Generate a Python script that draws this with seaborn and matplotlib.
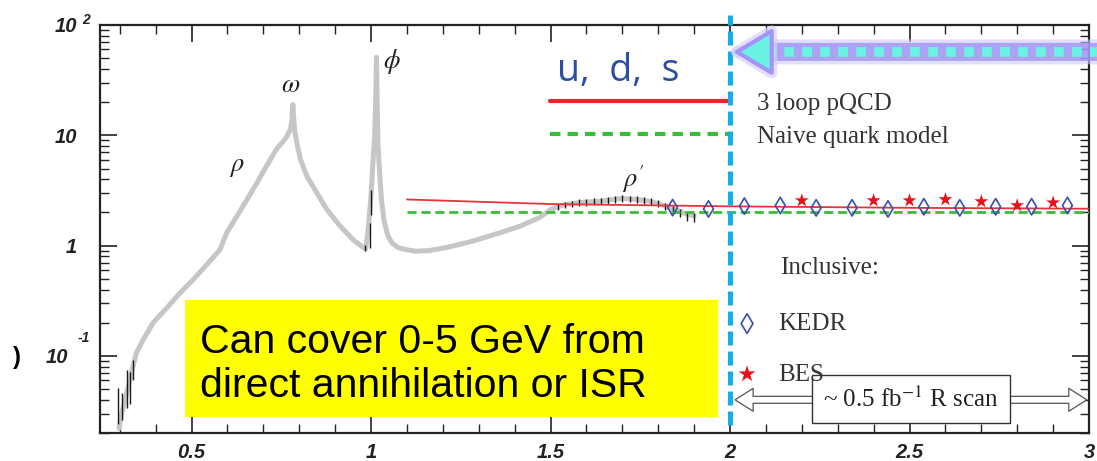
import matplotlib
matplotlib.use("Agg")
import matplotlib.pyplot as plt
import matplotlib.patheffects as pe
from matplotlib.ticker import FixedLocator, FixedFormatter, MultipleLocator, LogLocator, NullFormatter
from matplotlib.patches import Rectangle
from matplotlib.lines import Line2D
from matplotlib.transforms import ScaledTranslation
import seaborn as sns

# ---- R ratio below 2 GeV (inclusive hadronic data) ----
energy = [0.298, 0.305, 0.315, 0.332, 0.346, 0.365, 0.393, 0.430, 0.467, 0.504,
          0.542, 0.579, 0.598, 0.626, 0.654, 0.682, 0.712, 0.738, 0.755, 0.766,
          0.776, 0.780, 0.782, 0.784, 0.787, 0.795, 0.803, 0.821, 0.849, 0.877,
          0.914, 0.950, 0.975, 0.985, 0.992, 0.999, 1.005, 1.010, 1.013, 1.015,
          1.017, 1.019, 1.024, 1.029, 1.036, 1.046, 1.058, 1.075, 1.096, 1.124,
          1.160, 1.210, 1.280, 1.360, 1.415, 1.470, 1.500, 1.520, 1.540, 1.560,
          1.580, 1.600, 1.620, 1.640, 1.660, 1.680, 1.700, 1.720, 1.740, 1.760,
          1.780, 1.800, 1.820, 1.840, 1.860, 1.880, 1.900]
r_value = [0.022, 0.030, 0.040, 0.070, 0.106, 0.14, 0.20, 0.27, 0.37, 0.49,
           0.67, 0.92, 1.31, 1.84, 2.6, 3.7, 5.5, 7.6, 8.8, 9.8,
           11.5, 14.0, 19.0, 15.0, 11.0, 8.0, 6.1, 4.26, 3.0, 2.12,
           1.5, 1.13, 0.98, 0.93, 1.4, 2.6, 5.5, 10.0, 22.0, 51.0,
           20.0, 8.5, 4.5, 2.6, 1.7, 1.25, 1.06, 0.96, 0.92, 0.89,
           0.90, 0.96, 1.09, 1.31, 1.5, 1.8, 2.12, 2.25, 2.36, 2.40,
           2.45, 2.48, 2.50, 2.53, 2.58, 2.64, 2.67, 2.65, 2.62, 2.57,
           2.50, 2.40, 2.28, 2.16, 2.05, 1.92, 1.86]

# uncertainty bars shown on selected points
bar_energy = [0.296, 0.306, 0.320, 0.329, 0.338, 0.983, 0.997, 1.001,
              1.52, 1.54, 1.56, 1.58, 1.60, 1.62, 1.64, 1.66, 1.68, 1.70,
              1.72, 1.74, 1.76, 1.78, 1.80, 1.82, 1.84, 1.86, 1.88, 1.90]
bar_low = [0.024, 0.026, 0.034, 0.037, 0.060, 0.90, 0.95, 1.9,
           2.12, 2.2, 2.24, 2.28, 2.3, 2.33, 2.36, 2.4, 2.45, 2.48,
           2.47, 2.43, 2.38, 2.32, 2.22, 2.1, 1.92, 1.8, 1.68, 1.65]
bar_high = [0.051, 0.046, 0.075, 0.072, 0.092, 1.02, 1.6, 3.2,
            2.38, 2.5, 2.56, 2.62, 2.65, 2.68, 2.7, 2.76, 2.82, 2.86,
            2.84, 2.8, 2.75, 2.68, 2.58, 2.42, 2.28, 2.16, 2.02, 1.96]

# theory curves
pqcd_energy = [1.1, 1.5, 2.0, 2.5, 3.0]
pqcd_r = [2.62, 2.38, 2.27, 2.20, 2.16]
naive_energy = [1.1, 3.0]
naive_r = [2.0, 2.0]

# inclusive scan points
kedr_energy = [1.84, 1.94, 2.04, 2.14, 2.24, 2.34, 2.44, 2.54, 2.64, 2.74, 2.84, 2.94]
kedr_r = [2.21, 2.15, 2.28, 2.31, 2.20, 2.20, 2.15, 2.25, 2.20, 2.25, 2.25, 2.31]
bes_energy = [2.2, 2.4, 2.5, 2.6, 2.7, 2.8, 2.9]
bes_r = [2.56, 2.56, 2.56, 2.62, 2.51, 2.31, 2.45]

x_ticks = [0.5, 1, 1.5, 2, 2.5, 3]
x_tick_labels = ["0.5", "1", "1.5", "2", "2.5", "3"]
y_ticks = [0.1, 1, 10, 100]
y_tick_labels = ["10", "1", "10", "10"]

resonances = [("$\\rho$", 0.627, 5.1), ("$\\omega$", 0.777, 28.0),
              ("$\\phi$", 1.058, 47.0), ("$\\rho'$", 1.73, 4.0)]

sns.set_theme(style="ticks")
plt.rcParams["font.family"] = ["Liberation Serif", "DejaVu Serif"]
plt.rcParams["mathtext.fontset"] = "stix"

fig = plt.figure(figsize=(10.97, 4.61), dpi=100)
ax = fig.add_axes([0.0912, 0.0607, 0.9927 - 0.0912, 0.9458 - 0.0607])
ax.set_yscale("log")
ax.set_xlim(0.245, 3.0)
ax.set_ylim(0.02, 100)

# measured R(s)
sns.lineplot(x=energy, y=r_value, color="#c6c6c6", linewidth=3.6, sort=False,
             estimator=None, ax=ax, zorder=2)
ax.vlines(bar_energy, bar_low, bar_high, color="#1a1a1a", linewidth=1.0, zorder=3)

# theory
sns.lineplot(x=pqcd_energy, y=pqcd_r, color="#e5343a", linewidth=1.3, ax=ax, zorder=3)
sns.lineplot(x=naive_energy, y=naive_r, color="#3dbb3d", linewidth=2.0, ax=ax,
             linestyle=(0, (3.3, 1.7)), zorder=3)

# scan points
sns.scatterplot(x=kedr_energy, y=kedr_r, marker="d", s=70, color="#3a4fae",
                edgecolor="#3a4fae", linewidth=1.2, ax=ax, zorder=6)
kedr_pts = ax.collections[-1]
kedr_pts.set_facecolor("none")
sns.scatterplot(x=bes_energy, y=bes_r, marker="*", s=110, color="#e8101a",
                edgecolor="none", linewidth=0, ax=ax, zorder=6)
bes_pts = ax.collections[-1]

# resonance names
for name, ex, ey in resonances:
    ax.text(ex, ey, name, fontsize=19, ha="center", va="center", color="#222222", zorder=5)

# u, d, s heading and theory key
ax.text(1.518, 31.0, "u,  d,  s", fontsize=27, family="Open Sans", color="#2d4ea0",
        ha="left", va="baseline", zorder=5)
key_handles = [Line2D([], [], color="#e8262c", lw=3.0),
               Line2D([], [], color="#3cbc3c", lw=3.0, linestyle=(0, (2.5, 1.7)))]
leg1 = ax.legend(key_handles, ["3 loop pQCD", "Naive quark model"], loc="upper left",
                 bbox_to_anchor=(0.455, 0.834), frameon=False, fontsize=18,
                 handlelength=7.12, handletextpad=1.16, labelspacing=0.41,
                 borderpad=0, borderaxespad=0)
for t in leg1.get_texts():
    t.set_color("#333333")
ax.add_artist(leg1)

# inclusive measurements key
ax.text(2.139, 0.63, "Inclusive:", fontsize=18, ha="left", va="center", color="#333333", zorder=5)
leg2 = ax.legend([kedr_pts, bes_pts], ["KEDR", "BES"], loc="upper left",
                 bbox_to_anchor=(0.6416, 0.295), frameon=False, fontsize=18,
                 handlelength=1.0, handletextpad=0.74, labelspacing=1.12,
                 borderpad=0, borderaxespad=0, scatterpoints=1, markerscale=1.2)
for t in leg2.get_texts():
    t.set_color("#333333")
leg2.set_zorder(10)

# 2 GeV boundary
ax.axvline(2.0, ymin=0.02, ymax=1.025, color="#12aef0", lw=3.6, dashes=(2.8, 1.2),
           clip_on=False, zorder=7)

# R scan range arrow with label
scan_y = 0.04
for end in (2.014, 2.994):
    ax.annotate("", xy=(end, scan_y), xytext=(2.504, scan_y), annotation_clip=False,
                arrowprops=dict(arrowstyle="simple,head_length=1.3,head_width=1.65,tail_width=0.5",
                                mutation_scale=10, facecolor="white", edgecolor="#555555",
                                lw=0.9, shrinkA=0, shrinkB=0), zorder=4)
ax.text(2.504, 0.0405, "~ 0.5 fb$^{-1}$ R scan", fontsize=18, ha="center", va="center",
        color="#222222", zorder=5,
        bbox=dict(boxstyle="square,pad=0.45", fc="white", ec="#333333", lw=1.0))

# incoming arrow at the top right
arrow_y = 57.0
ax.annotate("", xy=(2.09, arrow_y), xytext=(3.03, arrow_y), annotation_clip=False,
            arrowprops=dict(arrowstyle="-", lw=13, color="#9a8ef5", alpha=0.75,
                            shrinkA=0, shrinkB=0, capstyle="butt",
                            path_effects=[pe.Stroke(linewidth=18, foreground="#cfc8fb", alpha=0.6),
                                          pe.Normal()]), zorder=8)
ax.annotate("", xy=(2.1, arrow_y), xytext=(3.03, arrow_y), annotation_clip=False,
            arrowprops=dict(arrowstyle="-", lw=7, color="#6af2e2", linestyle=(0, (1.0, 0.85)),
                            shrinkA=0, shrinkB=0, capstyle="butt"), zorder=9)
ax.annotate("", xy=(2.008, arrow_y), xytext=(2.11, arrow_y), annotation_clip=False,
            arrowprops=dict(arrowstyle="-|>,head_length=2.5,head_width=1.5", mutation_scale=10,
                            facecolor="#6cf2e4", edgecolor="#a196f7", lw=3,
                            shrinkA=0, shrinkB=0,
                            path_effects=[pe.Stroke(linewidth=8, foreground="#d6d0fc", alpha=0.7),
                                          pe.Normal()]), zorder=9)

# yellow note
ax.add_patch(Rectangle((0.086, 0.039), 0.539, 0.287, transform=ax.transAxes,
                       facecolor="#ffff00", edgecolor="none", zorder=4))
ax.text(0.101, 0.196, "Can cover 0-5 GeV from", transform=ax.transAxes, fontsize=29.5,
        family="Liberation Sans", color="black", ha="left", va="baseline", zorder=5)
ax.text(0.101, 0.088, "direct annihilation or ISR", transform=ax.transAxes, fontsize=29.5,
        family="Liberation Sans", color="black", ha="left", va="baseline", zorder=5)

# axes styling
ax.xaxis.set_major_locator(FixedLocator(x_ticks))
ax.xaxis.set_major_formatter(FixedFormatter(x_tick_labels))
ax.xaxis.set_minor_locator(MultipleLocator(0.1))
ax.yaxis.set_major_locator(FixedLocator(y_ticks))
ax.yaxis.set_major_formatter(FixedFormatter(y_tick_labels))
ax.yaxis.set_minor_locator(LogLocator(base=10, subs=(2, 3, 4, 5, 6, 7, 8, 9)))
ax.yaxis.set_minor_formatter(NullFormatter())
ax.tick_params(which="both", direction="in", top=True, right=True, color="#222222")
ax.tick_params(which="major", length=12, width=1.2)
ax.tick_params(which="minor", length=6.5, width=1.0)
ax.tick_params(axis="x", pad=7)
ax.tick_params(axis="y", pad=16.5)
for s in ax.spines.values():
    s.set_linewidth(1.6)
    s.set_color("#222222")
for lab in ax.get_xticklabels() + ax.get_yticklabels():
    lab.set_fontfamily("Liberation Sans")
    lab.set_fontweight("bold")
    lab.set_fontstyle("italic")
    lab.set_fontsize(14.5)
    lab.set_color("#222222")
low_lab = ax.get_yticklabels()[0]
low_lab.set_transform(low_lab.get_transform() + ScaledTranslation(-0.09, 0, fig.dpi_scale_trans))

sup_kw = dict(xycoords=("axes fraction", "data"), textcoords="offset pixels",
              fontsize=10, fontweight="bold", fontstyle="italic", family="Liberation Sans",
              color="#222222", ha="left", va="center", annotation_clip=False)
ax.annotate("2", xy=(0, 100), xytext=(-18, 5), **sup_kw)
ax.annotate("-1", xy=(0, 0.1), xytext=(-22, 18), **sup_kw)

fig.text(17 / 1097, 1 - 357 / 461, ")", fontsize=17, fontweight="bold", family="Liberation Sans",
         ha="center", va="center", color="black")

fig.savefig("out.png", dpi=100)
